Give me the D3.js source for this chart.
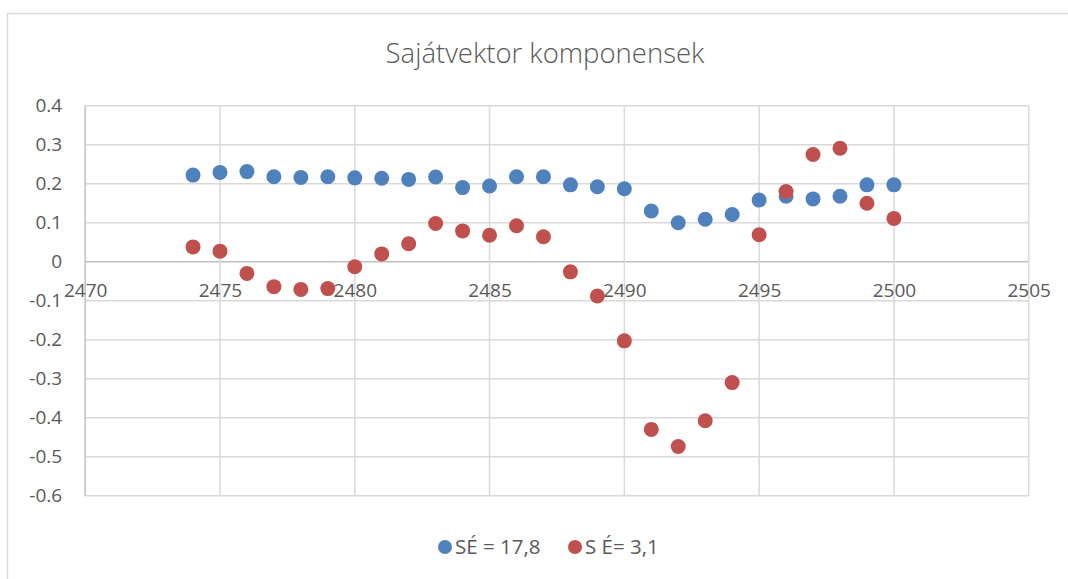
<!DOCTYPE html>
<html>
<head>
<meta charset="utf-8">
<script src="https://cdn.jsdelivr.net/npm/d3@7"></script>
<style>
  body { margin: 0; background: #fff; }
  text { font-family: "Open Sans", sans-serif; fill: #595959; }
</style>
</head>
<body>
<script>
var w = 1068;
var h = 579;

// data
var years = [2474, 2475, 2476, 2477, 2478, 2479, 2480, 2481, 2482, 2483, 2484, 2485, 2486, 2487,
    2488, 2489, 2490, 2491, 2492, 2493, 2494, 2495, 2496, 2497, 2498, 2499, 2500];
var blueValues = [0.222, 0.229, 0.231, 0.218, 0.216, 0.218, 0.215, 0.214, 0.211, 0.217, 0.190, 0.194, 0.218, 0.218,
    0.197, 0.192, 0.187, 0.130, 0.100, 0.109, 0.121, 0.158, 0.168, 0.161, 0.168, 0.197, 0.197];
var redValues = [0.038, 0.027, -0.030, -0.064, -0.071, -0.069, -0.013, 0.020, 0.046, 0.098, 0.079, 0.068, 0.092, 0.064,
    -0.026, -0.088, -0.203, -0.430, -0.474, -0.408, -0.310, 0.069, 0.180, 0.275, 0.291, 0.150, 0.111];
var seriesNames = ["SÉ = 17,8", "S É= 3,1"];
var seriesColors = ["#4F81BD", "#C0504D"];
var xTicks = [2470, 2475, 2480, 2485, 2490, 2495, 2500, 2505];
var yTicks = [0.4, 0.3, 0.2, 0.1, 0, -0.1, -0.2, -0.3, -0.4, -0.5, -0.6];
var title = "Sajátvektor komponensek";

var svg = d3.select("body")
    .append("svg")
    .attr("width", w)
    .attr("height", h);

// chart frame
svg.append("rect")
    .attr("x", 7.5)
    .attr("y", 13.5)
    .attr("width", 1100)
    .attr("height", 600)
    .style("fill", "none")
    .style("stroke", "#d9d9d9")
    .style("stroke-width", 1.5);

//scales
var x = d3.scaleLinear().domain([2470, 2505]).range([85.2, 1028.7]);
var y = d3.scaleLinear().domain([-0.6, 0.4]).range([495.7, 105.7]);

// gridlines
svg.append("g")
    .selectAll("line")
    .data(yTicks)
    .enter()
    .append("line")
    .attr("x1", x(2470))
    .attr("x2", x(2505))
    .attr("y1", function (d) { return y(d); })
    .attr("y2", function (d) { return y(d); })
    .style("stroke", function (d) { return d === 0 ? "#bfbfbf" : "#d9d9d9"; })
    .style("stroke-width", 1.5);

svg.append("g")
    .selectAll("line")
    .data(xTicks)
    .enter()
    .append("line")
    .attr("x1", function (d) { return x(d); })
    .attr("x2", function (d) { return x(d); })
    .attr("y1", y(0.4))
    .attr("y2", y(-0.6))
    .style("stroke", function (d) { return d === 2470 ? "#bfbfbf" : "#d9d9d9"; })
    .style("stroke-width", 1.5);

// y axis labels (plain hyphen as minus, like Excel)
var yAxis = d3.axisLeft(y)
    .tickValues(yTicks)
    .tickSize(0)
    .tickPadding(23)
    .tickFormat(function (d) { return d === 0 ? "0" : d3.format(".1f")(d).replace("\u2212", "-"); });
var gy = svg.append("g")
    .attr("transform", "translate(" + x(2470) + ",0)")
    .call(yAxis);
gy.select(".domain").remove();
gy.selectAll("text")
    .style("font-size", "19px")
    .style("fill", "#595959")
    .style("font-family", "'Open Sans', sans-serif");

// x axis labels sit on the zero line
var xAxis = d3.axisBottom(x)
    .tickValues(xTicks)
    .tickSize(0)
    .tickPadding(22)
    .tickFormat(d3.format("d"));
var gx = svg.append("g")
    .attr("transform", "translate(0," + y(0) + ")")
    .call(xAxis);
gx.select(".domain").remove();
gx.selectAll("text")
    .style("font-size", "19px")
    .style("fill", "#595959")
    .style("font-family", "'Open Sans', sans-serif");

// points
var allSeries = [blueValues, redValues];
allSeries.forEach(function (vals, s) {
    svg.append("g")
        .selectAll("circle")
        .data(years)
        .enter()
        .append("circle")
        .attr("cx", function (d) { return x(d); })
        .attr("cy", function (d, i) { return y(vals[i]); })
        .attr("r", 7.5)
        .style("fill", seriesColors[s]);
});

// title
svg.append("text")
    .attr("x", 545)
    .attr("y", 63)
    .attr("text-anchor", "middle")
    .style("font-size", "27.5px")
    .style("font-weight", 300)
    .text(title);

// legend
var legendX = [445, 575];
seriesNames.forEach(function (name, i) {
    svg.append("circle")
        .attr("cx", legendX[i])
        .attr("cy", 547)
        .attr("r", 7)
        .style("fill", seriesColors[i]);
    svg.append("text")
        .attr("x", legendX[i] + 10)
        .attr("y", 554)
        .style("font-size", "20.5px")
        .text(name);
});
</script>
</body>
</html>
